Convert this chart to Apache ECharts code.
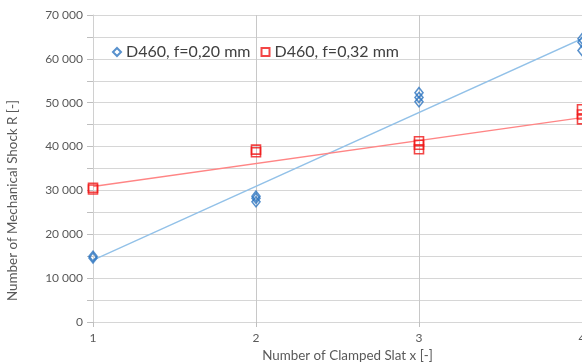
<!DOCTYPE html>
<html>
<head>
<meta charset="utf-8">
<script src="https://cdn.jsdelivr.net/npm/echarts@6/dist/echarts.min.js"></script>
<style>
  html, body { margin: 0; padding: 0; background: #fff; }
  #chart { width: 582px; height: 364px; }
</style>
</head>
<body>
<div id="chart"></div>
<script>
const blueX = [1, 1, 2, 2, 2, 3, 3, 3, 4, 4, 4];
const blueY = [14600, 15000, 27400, 28200, 28700, 50200, 51200, 52300, 61900, 63800, 64600];
const redX = [1, 1, 2, 2, 3, 3, 3, 4, 4, 4];
const redY = [30200, 30600, 38700, 39300, 39400, 40400, 41200, 46200, 47300, 48500];

// Trend line end points (x = 1 and x = 4)
const trendX = [1, 4];
const blueTrend = [14100, 64600];
const redTrend = [30900, 46600];

const blueName = "D460, f=0,20 mm";
const redName = "D460, f=0,32 mm";

const font = "Lato, 'Open Sans', sans-serif";

function pairs(xs, ys) {
  return xs.map((x, i) => [x, ys[i]]);
}

const chart = echarts.init(document.getElementById("chart"));

chart.setOption({
  animation: false,
  textStyle: { fontFamily: font },
  grid: { left: 93, right: 0, top: 15, bottom: 42, containLabel: false, outerBoundsMode: "none" },
  legend: {
    left: 107,
    top: 39,
    itemGap: 10,
    itemWidth: 8,
    itemHeight: 8,
    textStyle: { fontSize: 16, color: "#404040", fontFamily: font },
    data: [
      { name: blueName, icon: "diamond" },
      { name: redName, icon: "rect" },
    ],
  },
  xAxis: {
    type: "value",
    min: 1,
    max: 4,
    interval: 1,
    name: "Number of Clamped Slat x [-]",
    nameLocation: "middle",
    nameGap: 26,
    nameTextStyle: { fontSize: 13.4, color: "#595959", padding: [0, 0, 0, 20] },
    axisLine: { show: false },
    axisTick: { show: true, length: 5, lineStyle: { color: "#bfbfbf" } },
    axisLabel: { fontSize: 12, color: "#595959", margin: 10 },
    splitLine: { show: true, lineStyle: { color: "#c8c8c8", width: 1 } },
  },
  yAxis: {
    type: "value",
    min: 0,
    max: 70000,
    interval: 5000,
    name: "Number of Mechanical Shock R [-]",
    nameLocation: "middle",
    nameGap: 74,
    nameTextStyle: { fontSize: 13.4, color: "#595959", padding: [0, 64, 0, 0] },
    axisLine: { show: true, lineStyle: { color: "#d0d0d0" } },
    axisTick: { show: true, length: 6, lineStyle: { color: "#bfbfbf" } },
    axisLabel: {
      fontSize: 12,
      color: "#595959",
      margin: 10,
      formatter: (v) => {
        if (v % 10000 !== 0) return "";
        const s = String(v);
        return s.length > 3 ? s.slice(0, -3) + " " + s.slice(-3) : s;
      },
    },
    splitLine: { show: true, lineStyle: { color: "#d6d6d6", width: 1 } },
  },
  series: [
    {
      name: "blue trend",
      type: "line",
      data: pairs(trendX, blueTrend),
      symbol: "none",
      lineStyle: { color: "#92c1e8", width: 1.3 },
      silent: true,
      z: 3,
    },
    {
      name: "red trend",
      type: "line",
      data: pairs(trendX, redTrend),
      symbol: "none",
      lineStyle: { color: "#ff8585", width: 1.3 },
      silent: true,
      z: 3,
    },
    {
      name: blueName,
      type: "scatter",
      symbol: "diamond",
      symbolSize: [8, 10],
      data: pairs(blueX, blueY),
      itemStyle: { color: "rgba(255,255,255,0)", borderColor: "#2e75c0", borderWidth: 1.6 },
      z: 5,
    },
    {
      name: redName,
      type: "scatter",
      symbol: "rect",
      symbolSize: 9,
      data: pairs(redX, redY),
      itemStyle: { color: "rgba(255,255,255,0)", borderColor: "#f01818", borderWidth: 1.6 },
      z: 5,
    },
  ],
});
</script>
</body>
</html>
